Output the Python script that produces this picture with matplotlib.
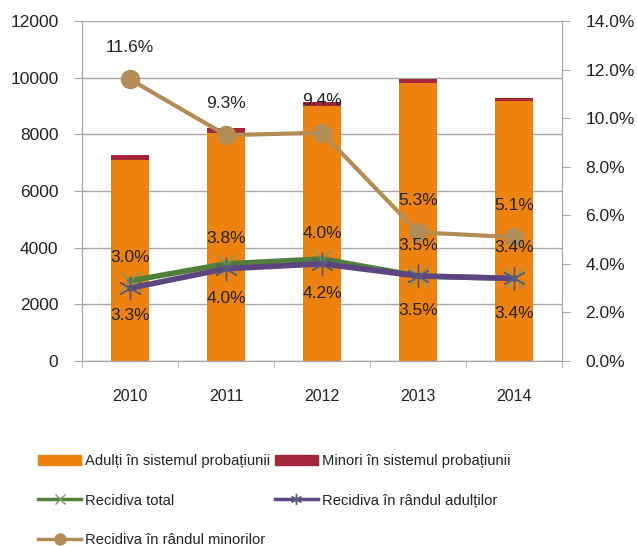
import numpy as np
import matplotlib.pyplot as plt
from matplotlib.patches import Patch
from matplotlib.lines import Line2D

plt.rcParams['font.family'] = ['Liberation Sans', 'DejaVu Sans']

years = ['2010', '2011', '2012', '2013', '2014']
adulti = [7100, 8060, 9000, 9800, 9170]
minori = [170, 150, 150, 140, 130]
rec_total = [3.3, 4.0, 4.2, 3.5, 3.4]
rec_adulti = [3.0, 3.8, 4.0, 3.5, 3.4]
rec_minori = [11.6, 9.3, 9.4, 5.3, 5.1]

c_orange = '#EE8210'
c_red = '#A3263A'
c_green = '#4F7F3A'
c_purple = '#5C4580'
c_tan = '#B38B55'
c_grid = '#A6A6A6'
c_txt = '#222222'
fs = 12.5

W, H = 637, 546
fig = plt.figure(figsize=(W / 100, H / 100), dpi=100)
ax = fig.add_axes([82 / W, 1 - 361 / H, 480 / W, 340 / H])
ax2 = ax.twinx()

x = np.arange(len(years))
ax.bar(x, adulti, width=0.4, color=c_orange, zorder=2)
ax.bar(x, minori, width=0.4, bottom=adulti, color=c_red, zorder=2)

ax.set_ylim(0, 12000)
ax.set_yticks(np.arange(0, 12001, 2000))
ax.set_xlim(-0.5, 4.5)
ax.set_xticks(x)
ax.set_xticklabels(years)
ax.set_xticks(np.arange(-0.5, 5, 1), minor=True)
ax.tick_params(axis='x', which='major', length=0, pad=20, labelsize=11.5, labelcolor=c_txt)
ax.tick_params(axis='x', which='minor', length=5, color=c_grid)
ax.tick_params(axis='y', length=6, color=c_grid, pad=11, labelsize=fs, labelcolor=c_txt)
ax.yaxis.grid(True, color=c_grid, linewidth=1)
ax.set_axisbelow(True)
for s in ['left', 'bottom', 'right']:
    ax.spines[s].set_color(c_grid)
ax.spines['top'].set_visible(False)

ax2.plot(x, rec_minori, color=c_tan, lw=3, marker='o', ms=13, zorder=3)
ax2.plot(x, rec_total, color=c_green, lw=4, marker='x', ms=15, mew=1, mec='#7A9A62', zorder=4)
ax2.plot(x, rec_adulti, color=c_purple, lw=4, marker=(6, 2, 0), ms=17, mew=1, mec='#5A5A7A', zorder=5)
ax2.set_ylim(0, 14)
ax2.set_yticks(np.arange(0, 14.1, 2))
ax2.set_yticklabels(['%.1f%%' % v for v in np.arange(0, 14.1, 2)])
ax2.tick_params(axis='y', length=6, color=c_grid, pad=11, labelsize=fs, labelcolor=c_txt)
for s in ['left', 'bottom', 'right']:
    ax2.spines[s].set_color(c_grid)
ax2.spines['top'].set_visible(False)

for i in range(len(years)):
    ax2.annotate('%.1f%%' % rec_minori[i], (x[i], rec_minori[i]), xytext=(0, 23),
                 textcoords='offset points', ha='center', va='center', fontsize=fs, color=c_txt)
    ax2.annotate('%.1f%%' % rec_adulti[i], (x[i], rec_adulti[i]), xytext=(0, 22),
                 textcoords='offset points', ha='center', va='center', fontsize=fs, color=c_txt)
    ax2.annotate('%.1f%%' % rec_total[i], (x[i], rec_total[i]), xytext=(0, -25),
                 textcoords='offset points', ha='center', va='center', fontsize=fs, color=c_txt)

handles = [
    Patch(color=c_orange),
    Line2D([], [], color=c_green, lw=2.5, marker='x', ms=7, mec='#7A9A62'),
    Line2D([], [], color=c_tan, lw=2.5, marker='o', ms=8),
    Patch(color=c_red),
    Line2D([], [], color=c_purple, lw=2.5, marker=(6, 2, 0), ms=8, mec='#5A5A7A'),
]
labels = ['Adulți în sistemul probațiunii', 'Recidiva total', 'Recidiva în rândul minorilor',
          'Minori în sistemul probațiunii', 'Recidiva în rândul adulților']
leg = fig.legend(handles, labels, ncol=2, loc='upper left', bbox_to_anchor=(25 / W, 1 - 441 / H),
                 frameon=False, fontsize=10.6, handlelength=2.9, handletextpad=0.3,
                 columnspacing=0.3, labelspacing=1.72)
for t in leg.get_texts():
    t.set_color(c_txt)

fig.savefig('out.png', dpi=100)
